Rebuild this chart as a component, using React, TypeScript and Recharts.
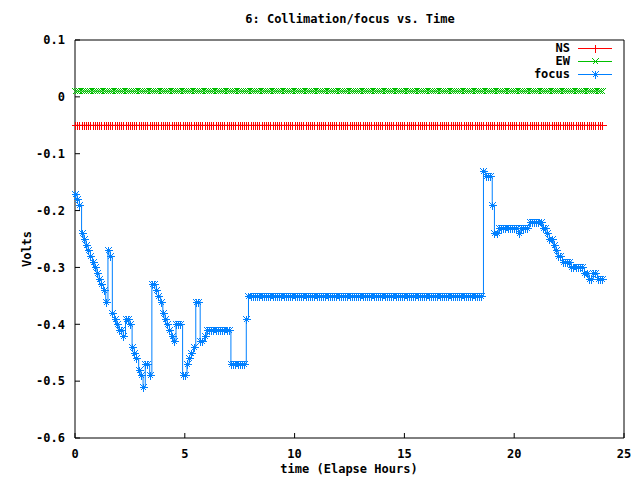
import React from "react";
import { LineChart, Line, XAxis, YAxis } from "recharts";

const FONT = "'DejaVu Sans Mono', 'Liberation Mono', monospace";

// samples every 0.1 h, from 0 to 24 h
const SAMPLE_HOURS = 0.1;
const NS_LEVEL = -0.05;
const EW_LEVEL = 0.01;

// focus readings, one row per hour
const FOCUS = [
  -0.17, -0.18, -0.19, -0.24, -0.25, -0.26, -0.27, -0.28, -0.29, -0.3,
  -0.31, -0.32, -0.33, -0.34, -0.36, -0.27, -0.28, -0.38, -0.39, -0.4,
  -0.41, -0.41, -0.42, -0.39, -0.39, -0.4, -0.44, -0.45, -0.46, -0.48,
  -0.49, -0.51, -0.47, -0.47, -0.49, -0.33, -0.33, -0.34, -0.35, -0.36,
  -0.38, -0.39, -0.4, -0.41, -0.42, -0.43, -0.4, -0.4, -0.4, -0.49,
  -0.49, -0.47, -0.46, -0.45, -0.44, -0.36, -0.36, -0.43, -0.43, -0.42,
  -0.41, -0.41, -0.41, -0.41, -0.41, -0.41, -0.41, -0.41, -0.41, -0.41,
  -0.41, -0.47, -0.47, -0.47, -0.47, -0.47, -0.47, -0.47, -0.39, -0.35,
  -0.35, -0.35, -0.35, -0.35, -0.35, -0.35, -0.35, -0.35, -0.35, -0.35,
  -0.35, -0.35, -0.35, -0.35, -0.35, -0.35, -0.35, -0.35, -0.35, -0.35,
  -0.35, -0.35, -0.35, -0.35, -0.35, -0.35, -0.35, -0.35, -0.35, -0.35,
  -0.35, -0.35, -0.35, -0.35, -0.35, -0.35, -0.35, -0.35, -0.35, -0.35,
  -0.35, -0.35, -0.35, -0.35, -0.35, -0.35, -0.35, -0.35, -0.35, -0.35,
  -0.35, -0.35, -0.35, -0.35, -0.35, -0.35, -0.35, -0.35, -0.35, -0.35,
  -0.35, -0.35, -0.35, -0.35, -0.35, -0.35, -0.35, -0.35, -0.35, -0.35,
  -0.35, -0.35, -0.35, -0.35, -0.35, -0.35, -0.35, -0.35, -0.35, -0.35,
  -0.35, -0.35, -0.35, -0.35, -0.35, -0.35, -0.35, -0.35, -0.35, -0.35,
  -0.35, -0.35, -0.35, -0.35, -0.35, -0.35, -0.35, -0.35, -0.35, -0.35,
  -0.35, -0.35, -0.35, -0.35, -0.35, -0.35, -0.13, -0.14, -0.14, -0.14,
  -0.19, -0.24, -0.24, -0.23, -0.23, -0.23, -0.23, -0.23, -0.23, -0.23,
  -0.23, -0.23, -0.24, -0.23, -0.23, -0.23, -0.23, -0.22, -0.22, -0.22,
  -0.22, -0.22, -0.22, -0.23, -0.23, -0.24, -0.25, -0.25, -0.26, -0.27,
  -0.28, -0.28, -0.29, -0.29, -0.29, -0.29, -0.3, -0.3, -0.3, -0.3,
  -0.3, -0.3, -0.31, -0.31, -0.32, -0.32, -0.31, -0.31, -0.32, -0.32,
  -0.32,
];

const X_TICKS = [0, 5, 10, 15, 20, 25];
const Y_TICKS = [0.1, 0, -0.1, -0.2, -0.3, -0.4, -0.5, -0.6];

const NS_COLOR = "#ff0000";
const EW_COLOR = "#00c000";
const FOCUS_COLOR = "#0080ff";

const data = FOCUS.map((focus, i) => ({
  time: Math.round(i * SAMPLE_HOURS * 10) / 10,
  NS: NS_LEVEL,
  EW: EW_LEVEL,
  focus,
}));

const px = (v: number) => Math.round(v) + 0.5;

function markerPath(kind: string, x: number, y: number) {
  const plus = `M${x - 4},${y}h8M${x},${y - 4}v8`;
  const cross = `M${x - 3},${y - 3}l6,6M${x - 3},${y + 3}l6,-6`;
  if (kind === "plus") return plus;
  if (kind === "cross") return cross;
  return plus + cross;
}

const makeDot = (kind: string, color: string) => (props: any) => {
  const { cx, cy, index } = props;
  if (cx == null || cy == null) return <g key={index} />;
  return (
    <path
      key={index}
      d={markerPath(kind, px(cx), px(cy))}
      stroke={color}
      strokeWidth={1}
      fill="none"
      shapeRendering="crispEdges"
    />
  );
};

const tickStyle = { fill: "#000", fontSize: 12, fontWeight: "bold", fontFamily: FONT };
const fmtY = (v: number) => String(Math.round(v * 10) / 10);

const LEGEND = [
  { name: "NS", color: NS_COLOR, kind: "plus" },
  { name: "EW", color: EW_COLOR, kind: "cross" },
  { name: "focus", color: FOCUS_COLOR, kind: "star" },
];

export default function App() {
  return (
    <div
      style={{
        position: "absolute",
        left: 0,
        top: 0,
        width: 640,
        height: 480,
        background: "#fff",
      }}
    >
      <LineChart
        width={640}
        height={480}
        data={data}
        margin={{ top: 39, right: 15, bottom: 41, left: 74 }}
      >
        <XAxis
          xAxisId="bottom"
          dataKey="time"
          type="number"
          domain={[0, 25]}
          ticks={X_TICKS}
          height={1}
          stroke="#000"
          tickSize={-5}
          tickMargin={16}
          tick={tickStyle}
          interval={0}
        />
        <XAxis
          xAxisId="top"
          orientation="top"
          dataKey="time"
          type="number"
          domain={[0, 25]}
          ticks={X_TICKS}
          height={1}
          stroke="#000"
          tickSize={-5}
          tick={false}
          interval={0}
        />
        <YAxis
          yAxisId="left"
          type="number"
          domain={[-0.6, 0.1]}
          ticks={Y_TICKS}
          width={1}
          stroke="#000"
          tickSize={-5}
          tickMargin={15}
          tick={tickStyle}
          tickFormatter={fmtY}
          interval={0}
        />
        <YAxis
          yAxisId="right"
          orientation="right"
          type="number"
          domain={[-0.6, 0.1]}
          ticks={Y_TICKS}
          width={1}
          stroke="#000"
          tickSize={-5}
          tick={false}
          interval={0}
        />
        <Line
          xAxisId="bottom"
          yAxisId="left"
          dataKey="NS"
          stroke={NS_COLOR}
          strokeWidth={1}
          dot={makeDot("plus", NS_COLOR)}
          isAnimationActive={false}
        />
        <Line
          xAxisId="bottom"
          yAxisId="left"
          dataKey="EW"
          stroke={EW_COLOR}
          strokeWidth={1}
          dot={makeDot("cross", EW_COLOR)}
          isAnimationActive={false}
        />
        <Line
          xAxisId="bottom"
          yAxisId="left"
          dataKey="focus"
          type="stepAfter"
          stroke={FOCUS_COLOR}
          strokeWidth={1}
          dot={makeDot("star", FOCUS_COLOR)}
          isAnimationActive={false}
        />
      </LineChart>
      <svg
        width={640}
        height={480}
        style={{ position: "absolute", left: 0, top: 0, pointerEvents: "none" }}
        fontFamily={FONT}
        fontSize={12}
        fontWeight="bold"
      >
        <text x={350} y={23} textAnchor="middle">
          6: Collimation/focus vs. Time
        </text>
        <text x={349} y={473} textAnchor="middle">
          time (Elapse Hours)
        </text>
        <text x={31} y={249} textAnchor="middle" transform="rotate(-90 31 249)">
          Volts
        </text>
        {LEGEND.map((s, i) => {
          const y = 48 + i * 13;
          return (
            <g key={s.name}>
              <text x={570} y={y + 4} textAnchor="end">
                {s.name}
              </text>
              <line x1={578} x2={612} y1={y + 0.5} y2={y + 0.5} stroke={s.color} strokeWidth={1} />
              <path
                d={markerPath(s.kind, 595.5, y + 0.5)}
                stroke={s.color}
                strokeWidth={1}
                fill="none"
                shapeRendering="crispEdges"
              />
            </g>
          );
        })}
      </svg>
    </div>
  );
}
